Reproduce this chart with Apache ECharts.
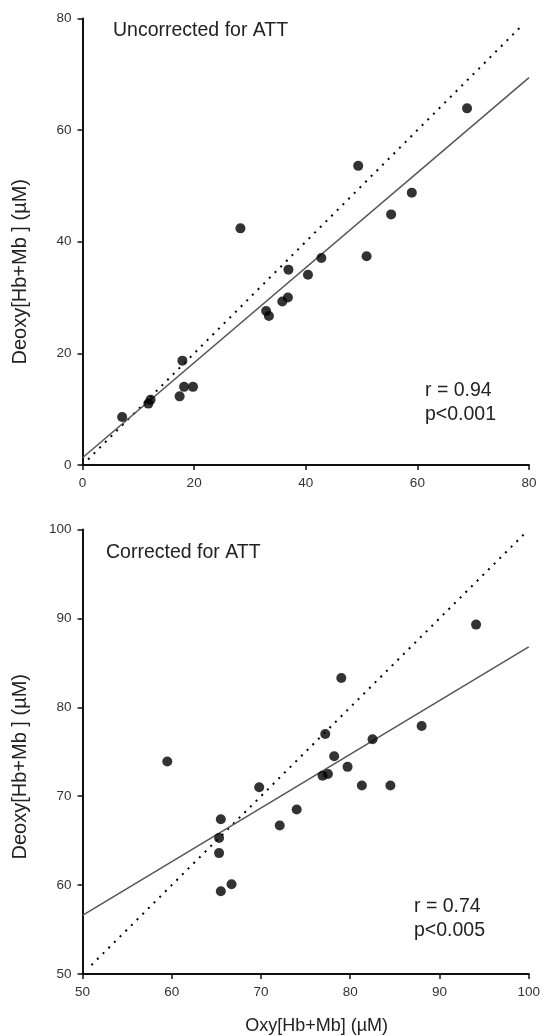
<!DOCTYPE html>
<html>
<head>
<meta charset="utf-8">
<script src="https://cdn.jsdelivr.net/npm/echarts@6/dist/echarts.min.js"></script>
<style>
html,body{margin:0;padding:0;background:#fff;}
#chart{width:543px;height:1036px;}
</style>
</head>
<body>
<div id="chart"></div>
<script>
// ---- data ----
const topTicks = [0, 20, 40, 60, 80];
const bottomTicks = [50, 60, 70, 80, 90, 100];

const topOxy   = [68.9, 49.4, 59.0, 55.3, 28.3, 50.9, 42.8, 36.9, 40.4, 36.8, 35.8, 32.9, 33.4, 17.9, 18.2, 19.8, 17.4, 12.2, 11.8, 7.1];
const topDeoxy = [63.9, 53.6, 48.8, 44.9, 42.4, 37.4, 37.1, 35.0, 34.1, 30.0, 29.3, 27.6, 26.7, 18.7, 14.0, 14.0, 12.3, 11.7, 11.0, 8.6];

const botOxy   = [94.1, 79.0, 88.0, 77.2, 82.5, 78.2, 59.5, 79.7, 76.9, 77.5, 81.3, 84.5, 69.8, 74.0, 72.1, 65.5, 65.3, 65.3, 66.7, 65.5];
const botDeoxy = [89.3, 83.3, 77.9, 77.0, 76.4, 74.5, 73.9, 73.3, 72.3, 72.5, 71.2, 71.2, 71.0, 68.5, 66.7, 67.4, 65.3, 63.6, 60.1, 59.3];

const topFitX = [0, 80],   topFitY = [1.3, 69.4];
const topIdX  = [1, 79],   topIdY  = [1, 79];
const botFitX = [50, 100], botFitY = [56.6, 86.8];
const botIdX  = [51, 99.5], botIdY = [51, 99.5];

const titles = ['Uncorrected for ATT', 'Corrected for ATT'];
const stats = ['r = 0.94\np<0.001', 'r = 0.74\np<0.005'];
const xName = 'Oxy[Hb+Mb] (\u00b5M)';
const yName = 'Deoxy[Hb+Mb ] (\u00b5M)';

// ---- build ----
const FONT = 'Liberation Sans, Arial, Helvetica, sans-serif';
const TXT = '#222';
const zip = (a, b) => a.map((v, i) => [v, b[i]]);

function axis(gridIndex, ticks, extra) {
  return Object.assign({
    type: 'value', gridIndex,
    min: ticks[0], max: ticks[ticks.length - 1],
    interval: ticks[1] - ticks[0],
    splitLine: { show: false },
    axisLine: { show: true, lineStyle: { color: '#111', width: 2 } },
    axisTick: { show: true, inside: false, length: 5, lineStyle: { color: '#111', width: 1.5 } },
    axisLabel: { color: '#333', fontSize: 13.5, fontFamily: FONT, margin: 11 }
  }, extra || {});
}

const titleStyle = { color: TXT, fontSize: 19.5, fontWeight: 'normal', fontFamily: FONT };
const statStyle = { color: TXT, fontSize: 19.5, fontWeight: 'normal', fontFamily: FONT, lineHeight: 24 };
const nameStyle = { color: TXT, fontSize: 18, fontFamily: FONT };

const option = {
  backgroundColor: '#fff',
  animation: false,
  title: [
    { text: titles[0], left: 113, top: 21, padding: 0, textStyle: titleStyle },
    { text: titles[1], left: 106, top: 543, padding: 0, textStyle: titleStyle },
    { text: stats[0], left: 425, top: 379, padding: 0, textStyle: statStyle },
    { text: stats[1], left: 414, top: 895, padding: 0, textStyle: statStyle }
  ],
  grid: [
    { left: 82.5, top: 18.5, width: 446.5, height: 446.5 },
    { left: 82.5, top: 529.5, width: 446.5, height: 444.5 }
  ],
  xAxis: [
    axis(0, topTicks),
    axis(1, bottomTicks, {
      name: xName, nameLocation: 'middle', nameGap: 43,
      nameTextStyle: Object.assign({ padding: [0, 0, 0, 22] }, nameStyle)
    })
  ],
  yAxis: [
    axis(0, topTicks, {
      name: yName, nameLocation: 'middle', nameGap: 52,
      nameTextStyle: Object.assign({ padding: [0, 60, 0, 0] }, nameStyle, { fontSize: 20 })
    }),
    axis(1, bottomTicks, {
      name: yName, nameLocation: 'middle', nameGap: 52,
      nameTextStyle: Object.assign({ padding: [0, 30, 0, 0] }, nameStyle, { fontSize: 20 })
    })
  ],
  series: [
    { type: 'line', xAxisIndex: 0, yAxisIndex: 0, data: zip(topIdX, topIdY), symbol: 'none',
      lineStyle: { color: '#000', width: 2, type: [2, 6] }, silent: true, z: 1 },
    { type: 'line', xAxisIndex: 0, yAxisIndex: 0, data: zip(topFitX, topFitY), symbol: 'none',
      lineStyle: { color: '#555', width: 1.5 }, silent: true, z: 2 },
    { type: 'scatter', xAxisIndex: 0, yAxisIndex: 0, data: zip(topOxy, topDeoxy), symbol: 'circle',
      symbolSize: 10, itemStyle: { color: '#000' }, z: 3 },
    { type: 'line', xAxisIndex: 1, yAxisIndex: 1, data: zip(botIdX, botIdY), symbol: 'none',
      lineStyle: { color: '#000', width: 2, type: [2, 6] }, silent: true, z: 1 },
    { type: 'line', xAxisIndex: 1, yAxisIndex: 1, data: zip(botFitX, botFitY), symbol: 'none',
      lineStyle: { color: '#555', width: 1.5 }, silent: true, z: 2 },
    { type: 'scatter', xAxisIndex: 1, yAxisIndex: 1, data: zip(botOxy, botDeoxy), symbol: 'circle',
      symbolSize: 10, itemStyle: { color: '#000' }, z: 3 }
  ]
};

const chart = echarts.init(document.getElementById('chart'), null, { renderer: 'canvas' });
chart.setOption(option);
</script>
</body>
</html>
